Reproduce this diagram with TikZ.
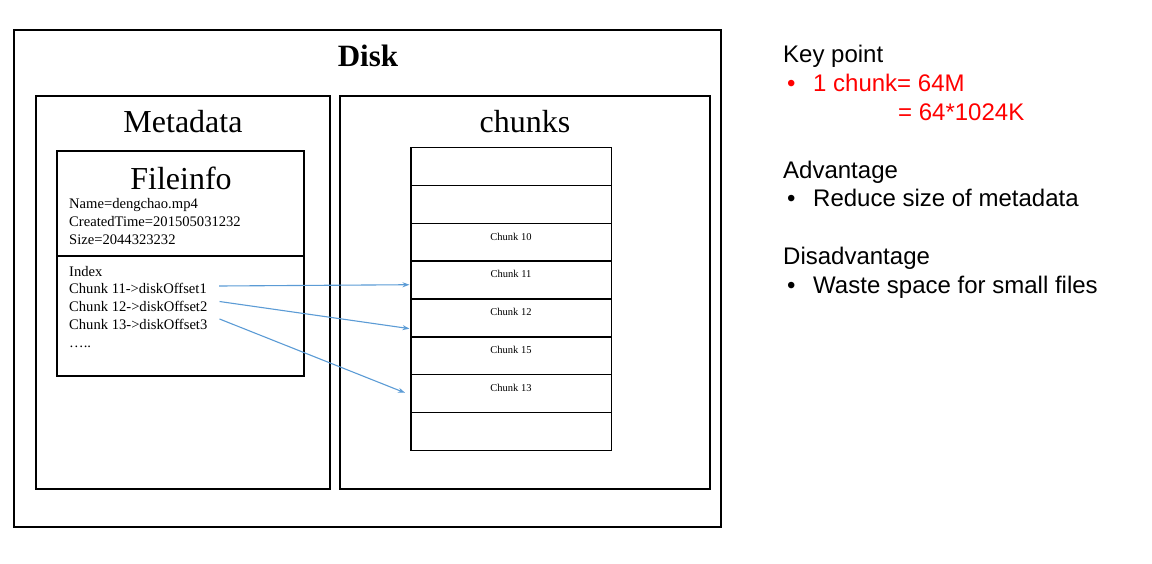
\documentclass[tikz,border=0pt]{standalone}
\usepackage{fontspec}
\setmainfont{Liberation Serif}
\newfontfamily\arialf{Liberation Sans}
\usetikzlibrary{arrows.meta}
\definecolor{arrowblue}{RGB}{91,155,213}
\definecolor{keyred}{RGB}{255,0,0}
\begin{document}
\begin{tikzpicture}[x=1pt,y=-1pt,
  box/.style={draw, line width=1.2pt, inner sep=0pt, outer sep=0pt, anchor=north west},
  row/.style={box, minimum width=200.5pt, minimum height=37.92pt},
  bigtitle/.style={anchor=base, inner sep=0pt, font=\fontsize{32}{36}\selectfont},
  info/.style={anchor=base west, inner sep=0pt, font=\fontsize{14.6}{17}\selectfont},
  clabel/.style={anchor=base, inner sep=0pt, font=\fontsize{10.5}{12}\selectfont},
  side/.style={anchor=base west, inner sep=0pt, font=\arialf\fontsize{24}{27}\selectfont},
  link/.style={draw=arrowblue, line width=1.1pt, -{Stealth[length=7pt,width=5pt]}}
]
\useasboundingbox (0,0) rectangle (1152,563);

% boxes
\node[box, minimum width=707pt, minimum height=497pt] (disk) at (14,30) {};
\node[box, minimum width=294pt, minimum height=393pt] (meta) at (36,96) {};
\node[box, minimum width=370pt, minimum height=393pt] (chunkbox) at (340,96) {};
\node[box, minimum width=247pt, minimum height=225pt] (fileinfo) at (57,151) {};
\draw[line width=1.2pt] (fileinfo.west |- 0,256) -- (fileinfo.east |- 0,256);

% titles
\node[bigtitle, font=\bfseries\fontsize{31}{36}\selectfont] (disktitle) at (368,66) {Disk};
\node[bigtitle] (metatitle) at (183,132) {Metadata};
\node[bigtitle] (chunkstitle) at (525,132) {chunks};
\node[bigtitle] (fititle) at (181,189) {Fileinfo};

% file info text
\node[info] (name) at (69,208) {Name=dengchao.mp4};
\node[info] (ctime) at (69,226.5) {CreatedTime=201505031232};
\node[info] (size) at (69,244.5) {Size=2044323232};
\node[info] (index) at (69,276) {Index};
\node[info] (c11) at (69,293.5) {Chunk 11->diskOffset1};
\node[info] (c12) at (69,311.5) {Chunk 12->diskOffset2};
\node[info] (c13) at (69,329.5) {Chunk 13->diskOffset3};
\node[info] (dots) at (69,347) {\dots..};

% chunk rows
\foreach \i in {1,...,8}{
  \node[row] (r\i) at (411,{147.3+37.92*(\i-1)}) {};
}
\node[clabel] (l10) at (511,240) {Chunk 10};
\node[clabel] (l11) at (511,277.7) {Chunk 11};
\node[clabel] (l12) at (511,315.7) {Chunk 12};
\node[clabel] (l15) at (511,353.3) {Chunk 15};
\node[clabel] (l13) at (511,391) {Chunk 13};

% arrows
\coordinate (s1) at ([xshift=12pt,yshift=7.5pt]c11.base east);
\coordinate (s2) at ([xshift=12pt,yshift=10pt]c12.base east);
\coordinate (s3) at ([xshift=12pt,yshift=10.5pt]c13.base east);
\coordinate (e1) at ([xshift=-1.5pt,yshift=-4.7pt]r4.west);
\coordinate (e2) at ([xshift=-1.5pt,yshift=-10.7pt]r5.west);
\coordinate (e3) at ([xshift=-6pt,yshift=1pt]r7.west);
\draw[link] (s1) -- (e1);
\draw[link] (s2) -- (e2);
\draw[link] (s3) -- (e3);

% side notes
\node[side] (key) at (783,62) {Key point};
\node[side, text=keyred] (b1) at (783,91.7) {\makebox[30pt][l]{\,\textbullet}1 chunk= 64M};
\node[side, text=keyred] (b1b) at (898,120) {= 64*1024K};
\node[side] (adv) at (783,178) {Advantage};
\node[side] (b2) at (783,206.7) {\makebox[30pt][l]{\,\textbullet}Reduce size of metadata};
\node[side] (dis) at (783,264) {Disadvantage};
\node[side] (b3) at (783,293) {\makebox[30pt][l]{\,\textbullet}Waste space for small files};
\end{tikzpicture}
\end{document}
